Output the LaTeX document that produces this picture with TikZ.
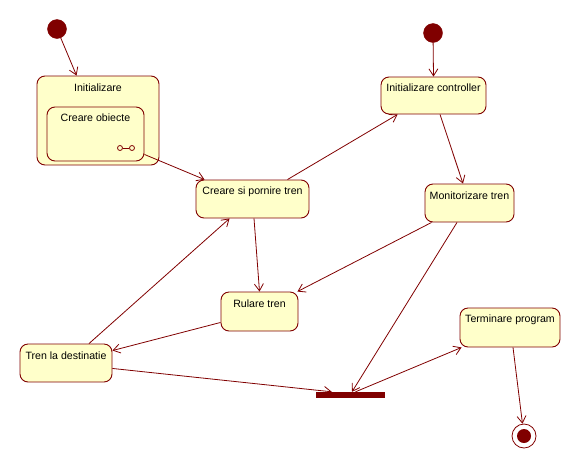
\documentclass[tikz,border=0pt]{standalone}
\usepackage{fontspec}
\setmainfont{Liberation Sans}
\usetikzlibrary{arrows.meta,calc}
\definecolor{umlred}{RGB}{128,0,0}
\definecolor{umlfill}{RGB}{255,255,202}
\tikzset{
  statebox/.style={draw=umlred, fill=umlfill, line width=0.9pt, rounded corners=8pt, inner sep=0pt},
  lbl/.style={font=\fontsize{10.6}{12}\selectfont, inner sep=0pt, anchor=center},
  arr/.style={draw=umlred, line width=0.8pt, -{Straight Barb[length=7pt,width=9pt]}},
  plain/.style={draw=umlred, line width=0.8pt},
  startdot/.style={circle, fill=umlred, draw=umlred, minimum size=19pt, inner sep=0pt},
}
\begin{document}
\begin{tikzpicture}[x=1pt,y=-1pt]
\useasboundingbox (0,0) rectangle (580,469);
% initial states
\node[startdot] (s1) at (57,29) {};
\node[startdot] (s2) at (433,33) {};
% states
\node[statebox, minimum width=122pt, minimum height=89pt] (init) at (98,120.5) {};
\node[lbl] (initt) at (98,88) {Initializare};
\node[statebox, minimum width=97pt, minimum height=54pt] (obj) at (95.5,134) {};
\node[lbl] (objt) at (95.5,118) {Creare obiecte};
\node[circle, draw=umlred, line width=0.8pt, minimum size=5pt, inner sep=0pt] (ic1) at (120,148) {};
\node[circle, draw=umlred, line width=0.8pt, minimum size=5pt, inner sep=0pt] (ic2) at (132,148) {};
\draw[plain] (ic1) -- (ic2);
\node[statebox, minimum width=105pt, minimum height=37pt] (ctrl) at (433.5,95.5) {};
\node[lbl] (ctrlt) at (433.5,88) {Initializare controller};
\node[statebox, minimum width=89pt, minimum height=38pt] (mon) at (469.5,203) {};
\node[lbl] (mont) at (469.5,195.5) {Monitorizare tren};
\node[statebox, minimum width=113pt, minimum height=38pt] (cpt) at (252.5,199) {};
\node[lbl] (cptt) at (252.5,191.5) {Creare si pornire tren};
\node[statebox, minimum width=77pt, minimum height=39pt] (rul) at (259.5,311.5) {};
\node[lbl] (rult) at (259.5,303.5) {Rulare tren};
\node[statebox, minimum width=92pt, minimum height=38pt] (tld) at (66,363) {};
\node[lbl] (tldt) at (66,355.5) {Tren la destinatie};
\node[statebox, minimum width=100pt, minimum height=39pt] (term) at (510,327.5) {};
\node[lbl] (termt) at (510,319.5) {Terminare program};
% synchronisation bar
\node[fill=umlred, minimum width=69pt, minimum height=6pt, inner sep=0pt] (bar) at (350.5,395) {};
% final state
\node[circle, draw=umlred, line width=0.8pt, minimum size=24pt, inner sep=0pt] (fin) at (524,436) {};
\node[circle, fill=umlred, minimum size=14pt, inner sep=0pt] (finin) at (524,436) {};
% transitions
\draw[arr] (s1) -- ($(init.north west)+(40,0)$);
\draw[arr] (s2) -- (ctrl.north);
\draw[arr] ($(obj.south east)+(0,-7)$) -- ($(cpt.north west)+(9,0)$);
\draw[arr] ($(cpt.north east)+(-22,0)$) -- ($(ctrl.south west)+(17,0)$);
\draw[arr] ($(ctrl.south)+(6.5,0)$) -- ($(mon.north)+(-6.5,0)$);
\draw[arr] ($(cpt.south)+(1.5,0)$) -- (rul.north);
\draw[arr] ($(mon.south west)+(7,0)$) -- ($(rul.north east)+(-1,0)$);
\draw[arr] ($(mon.south)+(-12.5,0)$) -- ($(bar.north)+(1.5,0)$);
\draw[arr] ($(rul.south west)+(0,-9)$) -- ($(tld.north east)+(0,7)$);
\draw[arr] ($(tld.north)+(23,0)$) -- ($(cpt.south west)+(34,0)$);
\draw[arr] ($(tld.south east)+(0,-14)$) -- ($(bar.north west)+(16,0)$);
\draw[arr] ($(bar.north)+(5,0)$) -- ($(term.south west)+(2,0)$);
\draw[arr] ($(term.south)+(3,0)$) -- (fin);
\end{tikzpicture}
\end{document}
